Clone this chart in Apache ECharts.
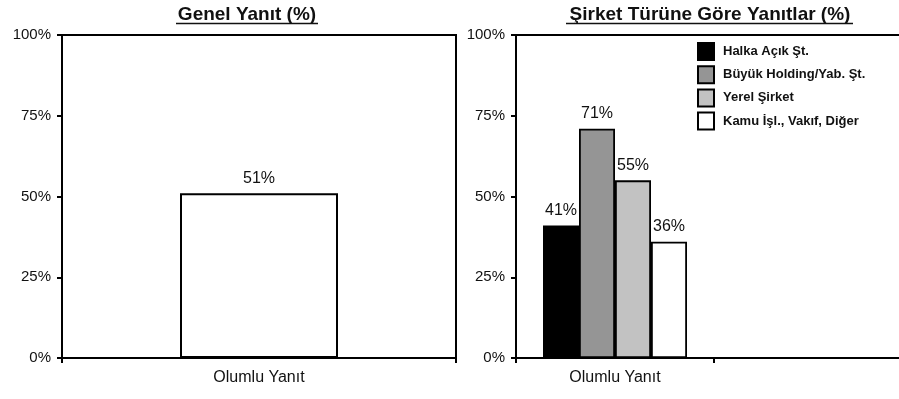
<!DOCTYPE html>
<html>
<head>
<meta charset="utf-8">
<script src="https://cdn.jsdelivr.net/npm/echarts@6/dist/echarts.min.js"></script>
<style>
html,body{margin:0;padding:0;background:#fff;}
#c{width:899px;height:399px;}
</style>
</head>
<body>
<div id="c"></div>
<script>
// ---- data ----
const leftTitle = 'Genel Yanıt (%)';
const rightTitle = 'Şirket Türüne Göre Yanıtlar (%)';
const leftCategories = ['Olumlu Yanıt'];
const leftValues = [51];
const rightCategories = ['Olumlu Yanıt', ''];
const seriesNames = ['Halka Açık Şt.', 'Büyük Holding/Yab. Şt.', 'Yerel Şirket', 'Kamu İşl., Vakıf, Diğer'];
const halkaValues = [41];
const buyukValues = [71];
const yerelValues = [55];
const kamuValues = [36];
const yTicks = [0, 25, 50, 75, 100];

const FONT = 'Liberation Sans, Arial, sans-serif';
const seriesColors = ['#000000', '#959595', '#c2c2c2', '#ffffff'];
const rightValues = [halkaValues, buyukValues, yerelValues, kamuValues];

const chart = echarts.init(document.getElementById('c'), null, {renderer: 'canvas'});

function yAxis(gridIndex) {
  return {
    type: 'value', gridIndex: gridIndex,
    min: yTicks[0], max: yTicks[yTicks.length - 1], interval: yTicks[1] - yTicks[0],
    axisLine: {show: true, lineStyle: {color: '#000', width: 2}},
    axisTick: {show: true, length: 5, lineStyle: {color: '#000', width: 2}},
    splitLine: {show: false},
    axisLabel: {formatter: '{value}%', fontFamily: FONT, fontSize: 15, color: '#111', margin: 11}
  };
}
function xAxis(gridIndex, cats) {
  return {
    type: 'category', gridIndex: gridIndex, data: cats,
    axisLine: {show: true, lineStyle: {color: '#000', width: 2}},
    axisTick: {show: true, length: 5, alignWithLabel: false, lineStyle: {color: '#000', width: 2}},
    axisLabel: {fontFamily: FONT, fontSize: 16, color: '#111', margin: 12}
  };
}
const labelStyle = {
  show: true, position: 'top', distance: 7, formatter: '{c}%',
  fontFamily: FONT, fontSize: 16, color: '#111'
};

const series = [{
  type: 'bar', xAxisIndex: 0, yAxisIndex: 0, data: leftValues, barWidth: 158,
  itemStyle: {color: '#fff', borderColor: '#000', borderWidth: 2},
  label: labelStyle
}];
seriesNames.forEach(function (n, i) {
  series.push({
    type: 'bar', name: n, xAxisIndex: 1, yAxisIndex: 1, data: rightValues[i],
    barWidth: 36, barGap: '0%',
    itemStyle: {color: seriesColors[i], borderColor: '#000', borderWidth: 1.8},
    label: labelStyle
  });
});

chart.setOption({
  animation: false,
  backgroundColor: '#fff',
  title: [
    {text: leftTitle, left: 242, top: 0, textAlign: 'center',
     textStyle: {fontFamily: FONT, fontSize: 19, fontWeight: 'bold', color: '#111'}},
    {text: rightTitle, left: 705, top: 0, textAlign: 'center',
     textStyle: {fontFamily: FONT, fontSize: 19, fontWeight: 'bold', color: '#111'}}
  ],
  graphic: [
    {type: 'line', shape: {x1: 176, y1: 23.5, x2: 318, y2: 23.5}, style: {stroke: '#111', lineWidth: 1.5}},
    {type: 'line', shape: {x1: 566, y1: 23.5, x2: 853, y2: 23.5}, style: {stroke: '#111', lineWidth: 1.5}}
  ],
  legend: {
    data: seriesNames, orient: 'vertical', left: 697, top: 42, padding: 0,
    itemWidth: 16, itemHeight: 17, itemGap: 4.2, icon: 'rect',
    itemStyle: {borderColor: '#000', borderWidth: 2},
    textStyle: {fontFamily: FONT, fontSize: 13, fontWeight: 'bold', color: '#111', padding: [0, 0, 0, 4]}
  },
  grid: [
    {left: 62, top: 35, width: 394, bottom: 41, show: true, borderColor: '#000', borderWidth: 2, backgroundColor: 'transparent', outerBoundsMode: 'none'},
    {left: 516, top: 35, right: -13, bottom: 41, show: true, borderColor: '#000', borderWidth: 2, backgroundColor: 'transparent', outerBoundsMode: 'none'}
  ],
  xAxis: [xAxis(0, leftCategories), xAxis(1, rightCategories)],
  yAxis: [yAxis(0), yAxis(1)],
  series: series
});
</script>
</body>
</html>
